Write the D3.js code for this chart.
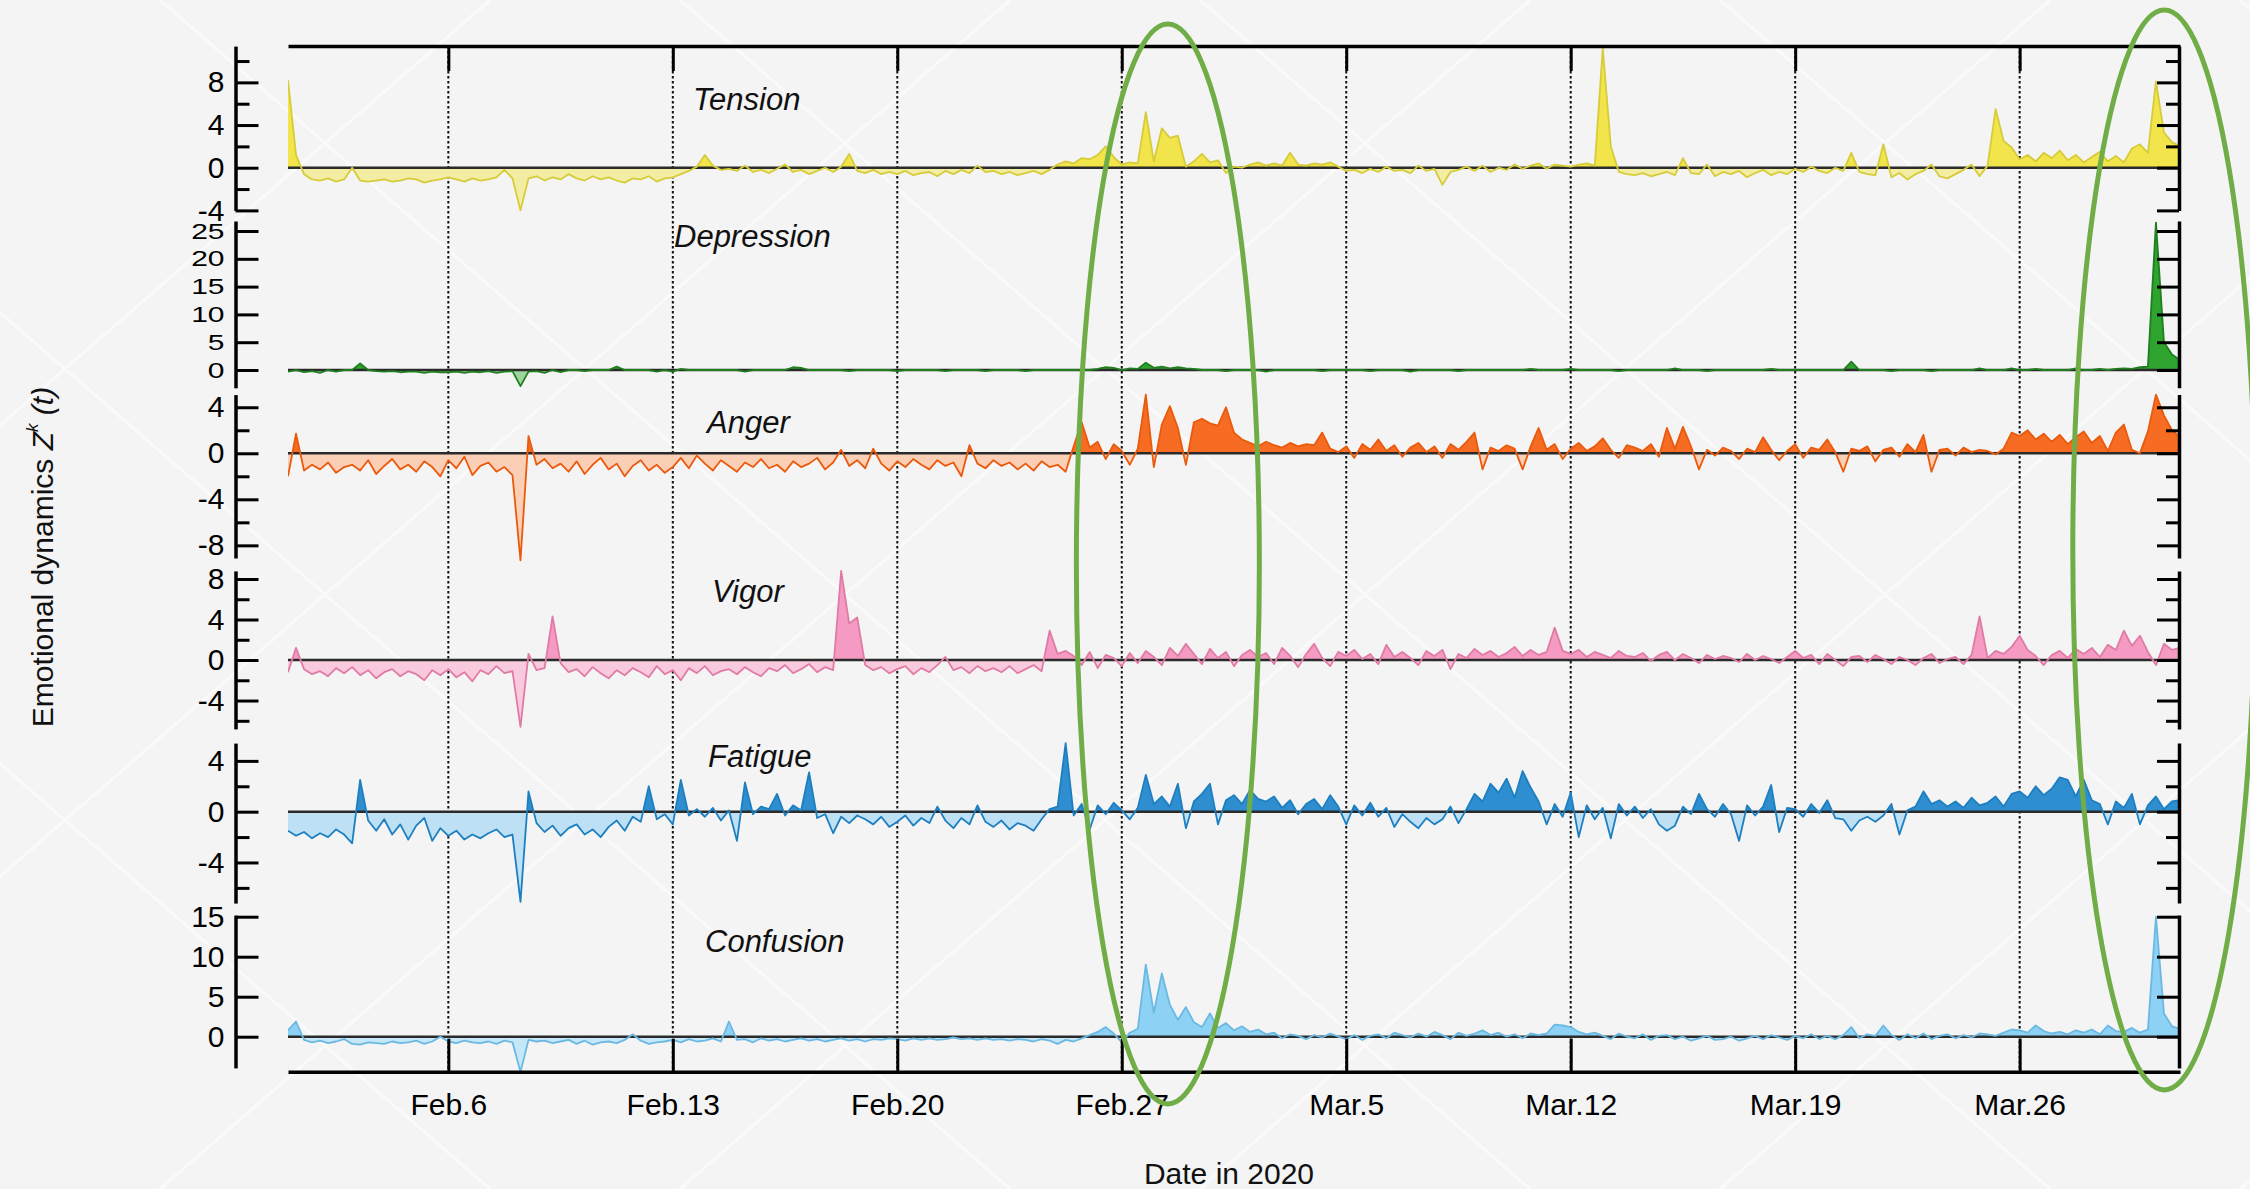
<!DOCTYPE html>
<html>
<head>
<meta charset="utf-8">
<script src="https://cdn.jsdelivr.net/npm/d3@7"></script>
<style>
  html, body { margin: 0; padding: 0; background: #f4f4f4; }
  svg { display: block; }
  text { font-family: "Liberation Sans", Arial, sans-serif; }
</style>
</head>
<body>
<svg id="chart" width="2250" height="1189"></svg>
<script>
// emotion series, one value every 6 hours, Feb 1 00:00 -> Mar 31 00:00 (2020)
const startDate = new Date(2020, 1, 1)
const endDate = new Date(2020, 2, 31)
const stepHours = 6

const tension = [
  8.2, 1.2, -0.6, -1.1, -1.2, -1.0, -1.3, -1.1,
  0.0, -1.2, -1.3, -1.2, -1.1, -1.3, -1.2, -1.0,
  -1.1, -1.4, -1.2, -1.1, -0.9, -1.1, -1.3, -1.0,
  -1.2, -1.1, -0.9, -0.2, -1.0, -4.0, -1.0, -0.8,
  -1.2, -0.9, -1.1, -0.6, -1.0, -1.2, -0.8, -1.1,
  -0.9, -1.2, -1.4, -1.0, -1.1, -0.8, -1.3, -1.0,
  -0.9, -0.6, -0.3, 0.1, 1.2, 0.2, -0.2, -0.1,
  -0.3, 0.2, -0.4, -0.2, -0.5, -0.1, 0.3, -0.4,
  -0.2, -0.6, -0.3, 0.0, -0.4, 0.1, 1.3, -0.3,
  -0.5, -0.2, -0.6, -0.4, -0.6, -0.3, -0.7, -0.5,
  -0.4, -0.8, -0.3, -0.6, -0.2, -0.5, 0.2, -0.4,
  -0.3, -0.6, -0.4, -0.7, -0.5, -0.3, -0.6, -0.2,
  0.3, 0.6, 0.4, 0.9, 0.8, 1.2, 2.0, 1.0,
  0.3, 0.5, 0.4, 5.2, 0.6, 3.7, 2.8, 3.0,
  0.1, 0.6, 1.3, 0.5, 0.7, -0.5, 0.1, 0.0,
  0.3, 0.5, 0.2, 0.4, 0.2, 1.4, 0.3, 0.2,
  0.4, 0.3, 0.5, 0.1, -0.3, -0.2, -0.5, -0.1,
  -0.4, 0.1, -0.3, -0.2, -0.5, 0.2, -0.3, -0.1,
  -1.6, -0.4, -0.2, 0.1, -0.3, 0.2, -0.4, 0.0,
  -0.2, 0.3, -0.1, 0.2, 0.4, -0.1, 0.3, 0.2,
  0.1, 0.3, 0.4, 0.2, 11.2, 2.0, -0.4, -0.6,
  -0.7, -0.5, -0.8, -0.6, -0.4, -0.7, 0.9, -0.5,
  -0.6, 0.3, -0.8, -0.4, -0.6, -0.3, -0.9, -0.5,
  -0.2, -0.7, -0.4, -0.6, -0.1, -0.4, 0.1, -0.3,
  -0.5, 0.0, -0.3, 1.4, -0.4, -0.6, -0.7, 2.2,
  -0.9, -0.5, -1.1, -0.6, -0.3, 0.3, -0.8, -1.0,
  -0.6, -0.2, 0.3, -0.8, 0.2, 5.5, 2.5, 1.9,
  0.8, 1.2, 0.6, 1.4, 0.9, 1.6, 0.7, 1.2,
  0.5, 1.0, 1.5, 0.6, 1.1, 0.5, 1.8, 2.2,
  1.4, 8.1, 3.3, 2.4, 2.0
]

const depression = [
  -0.3, 0.0, -0.4, -0.2, -0.5, 0.0, -0.3, 0.0,
  0.0, 1.2, 0.0, -0.2, -0.3, -0.2, -0.4, -0.3,
  -0.3, -0.5, -0.3, -0.4, -0.4, -0.3, -0.5, -0.3,
  -0.4, -0.2, -0.5, -0.3, -0.2, -2.9, -0.3, -0.2,
  -0.5, 0.0, -0.4, 0.0, 0.0, -0.2, 0.0, 0.0,
  0.0, 0.6, 0.0, 0.0, 0.0, 0.0, -0.3, 0.0,
  -0.3, 0.2, 0.0, 0.0, 0.0, 0.0, 0.0, 0.0,
  0.0, -0.3, 0.0, 0.0, 0.0, 0.0, 0.0, 0.5,
  0.4, 0.0, 0.0, 0.0, 0.0, 0.0, -0.2, 0.0,
  0.0, 0.0, 0.0, 0.0, -0.2, 0.0, 0.0, 0.0,
  0.0, 0.0, -0.2, 0.0, 0.0, 0.0, 0.0, -0.2,
  0.0, 0.0, 0.0, 0.0, -0.2, 0.0, 0.0, 0.0,
  0.0, 0.0, 0.0, 0.0, 0.0, 0.2, 0.5, 0.4,
  0.0, 0.3, 0.2, 1.3, 0.4, 0.6, 0.3, 0.5,
  0.3, 0.2, 0.0, 0.0, 0.0, -0.2, 0.0, 0.0,
  0.0, 0.0, -0.3, 0.0, 0.0, 0.0, 0.0, 0.0,
  0.0, -0.2, 0.0, 0.0, 0.0, 0.0, 0.0, -0.2,
  0.0, 0.0, 0.0, 0.0, -0.3, 0.0, 0.0, 0.0,
  0.0, 0.0, -0.2, 0.0, 0.0, 0.0, 0.0, 0.0,
  0.0, 0.0, 0.0, 0.2, 0.0, 0.0, 0.0, 0.0,
  0.2, 0.0, 0.0, 0.0, 0.0, 0.0, -0.2, 0.0,
  0.0, 0.0, 0.0, 0.0, 0.0, 0.3, 0.0, 0.0,
  0.0, -0.2, 0.0, 0.0, 0.0, 0.0, 0.0, 0.0,
  0.0, 0.2, 0.0, 0.0, 0.0, 0.0, 0.0, 0.0,
  0.0, 0.0, 0.0, 1.5, 0.0, 0.0, 0.0, 0.0,
  -0.2, 0.0, 0.0, 0.0, 0.0, -0.2, 0.0, 0.0,
  0.0, 0.0, 0.0, 0.3, 0.0, 0.0, 0.0, 0.3,
  0.0, 0.0, 0.2, 0.0, 0.0, 0.0, 0.0, 0.3,
  0.0, 0.0, 0.2, 0.0, 0.2, 0.3, 0.2, 0.5,
  0.6, 26.5, 5.0, 2.8, 1.8
]

const anger = [
  -2.0, 1.7, -1.5, -1.0, -1.4, -0.8, -1.7, -1.2,
  -1.0, -1.5, -0.6, -1.8, -1.1, -0.5, -1.4, -1.0,
  -1.6, -0.7, -1.2, -2.0, -0.6, -1.3, -0.3, -1.9,
  -1.1, -0.8, -1.6, -1.2, -1.9, -9.3, 1.5, -1.0,
  -0.5, -1.3, -0.9, -1.6, -0.7, -1.8, -1.0, -0.4,
  -1.4, -0.9, -2.0, -1.1, -0.6, -1.5, -1.0, -1.7,
  -1.2, -0.4, -1.3, -0.2, -0.9, -1.5, -0.6, -1.1,
  -1.6, -0.8, -1.2, -0.5, -1.3, -1.0, -1.6, -0.7,
  -1.2, -0.9, -0.4, -1.4, -0.8, 0.3, -1.1, -0.6,
  -1.3, 0.4, -0.9, -1.5, -0.7, -1.2, -0.5, -1.0,
  -1.4, -0.6, -1.1, -0.8, -2.0, 0.7, -0.9, -1.3,
  -0.6, -1.1, -0.8, -1.4, -0.9, -1.5, -0.7, -1.2,
  -1.0, -1.6, 0.6, 2.7, 0.5, 1.0, -0.5, 0.8,
  0.2, -1.0, 0.4, 5.1, -1.2, 2.5, 4.1, 2.2,
  -1.0, 2.7, 3.0, 2.6, 2.4, 4.0, 1.8, 1.2,
  0.9, 0.6, 1.0, 0.7, 0.5, 0.9, 0.6, 0.8,
  0.7, 1.8, 0.4, 0.1, 0.6, -0.4, 0.8, 0.3,
  1.2, 0.2, 0.7, -0.3, 0.5, 0.9, 0.1, 0.6,
  -0.4, 0.8, 0.3, 1.0, 1.8, -1.4, 0.5, 0.2,
  0.7, 0.4, -1.4, 0.6, 2.2, 0.3, 0.8, -0.5,
  0.4, 0.9, 0.2, 0.6, 1.3, 0.3, -0.4, 0.7,
  0.5, 0.2, 0.8, -0.3, 2.2, 0.4, 2.3, 0.6,
  -1.4, 0.3, -0.2, 0.5, 0.2, -0.5, 0.4, 0.1,
  1.4, 0.3, -0.6, 0.2, 0.8, -0.4, 0.5, 0.3,
  1.2, 0.1, -1.6, 0.4, 0.2, 0.6, -0.7, 0.3,
  0.5, -0.3, 0.8, 0.1, 1.6, -1.6, 0.3, 0.4,
  -0.2, 0.5, 0.1, 0.3, 0.2, -0.1, 0.4, 1.8,
  1.5, 2.0, 1.2, 1.7, 1.0, 1.6, 0.8, 1.4,
  1.9, 0.9, 1.5, 0.2, 1.8, 2.5, 0.3, 0.0,
  1.9, 5.1, 3.3, 2.0, 1.4
]

const vigor = [
  -1.2, 1.2, -0.9, -1.4, -1.1, -1.6, -0.8, -1.3,
  -0.7, -1.5, -1.0, -1.8, -1.2, -0.9, -1.6, -1.1,
  -1.4, -2.0, -1.0, -1.5, -0.9, -1.7, -1.2, -2.1,
  -1.0, -1.4, -0.6, -1.3, -1.1, -6.6, 0.6, -1.0,
  -0.8, 4.3, -0.3, -1.2, -0.9, -1.6, -0.7, -1.3,
  -1.8, -1.0, -1.5, -0.8, -1.2, -1.7, -0.6, -1.4,
  -1.0, -2.0, -0.8, -1.3, -0.6, -1.5, -1.1, -0.9,
  -1.4, -0.7, -1.2, -1.6, -0.8, -1.1, -0.5, -1.3,
  -0.9, -0.4, -1.2, -0.7, -1.0, 8.8, 3.6, 4.2,
  -0.5, -1.0, -0.7, -1.3, -0.9, -0.6, -1.4, -0.8,
  -1.2, -0.5, 0.3, -1.0, -0.7, -1.3, -0.6, -1.1,
  -0.8, -1.2, -0.6, -1.3, -0.9, -0.5, -1.1, 2.9,
  0.6, 0.9, 0.4, -0.5, 0.8, -0.8, 0.5, 0.2,
  -0.6, 0.7, -0.3, 0.9, 0.3, -0.5, 1.2, 0.4,
  1.6, 0.6, -0.4, 1.1, 0.2, 0.8, -0.6, 0.5,
  1.0, 0.3, 0.7, -0.4, 1.2, 0.4, -0.7, 0.6,
  1.6, 0.2, -0.6, 0.8, 0.4, 1.0, 0.1, 0.6,
  -0.4, 1.5, 0.3, 0.8, 0.2, -0.5, 0.9, 0.4,
  1.0, -0.9, 0.6, 0.2, 1.1, 0.5, 0.9, 0.3,
  0.7, 1.3, 0.4, 1.0, 0.5, 0.8, 3.2, 0.9,
  0.6, 1.0, 0.3, 0.8, 0.5, 0.2, 0.9, 0.4,
  0.3, 0.7, -0.1, 0.5, 0.8, 0.0, 0.6, 0.2,
  -0.3, 0.5, 0.1, 0.4, 0.2, -0.2, 0.6, 0.0,
  0.4, 0.1, -0.3, 0.3, 0.9, 0.2, 0.5, -0.4,
  0.6, 0.0, -0.6, 0.3, 0.4, -0.2, 0.5, 0.1,
  -0.4, 0.3, 0.0, -0.5, 0.2, 0.6, -0.3, 0.1,
  0.3, -0.4, 0.5, 4.3, 0.2, 0.9, 0.6, 1.3,
  2.4, 1.0, 0.4, -0.5, 0.5, 0.9, 0.2, 1.1,
  0.6, 1.2, 0.3, 1.5, 1.0, 2.9, 1.4, 2.4,
  0.8, -0.5, 1.6, 1.0, 1.2
]

const fatigue = [
  -1.5, -1.9, -1.6, -2.1, -1.7, -2.0, -1.4, -1.8,
  -2.5, 2.5, -0.7, -1.5, -0.6, -1.8, -1.0, -2.2,
  -1.1, -0.5, -2.3, -1.3, -1.9, -1.5, -2.2, -1.8,
  -2.1, -1.7, -1.4, -2.0, -1.8, -7.1, 1.6, -0.9,
  -1.6, -1.1, -1.9, -1.3, -1.0, -1.8, -1.4, -2.0,
  -1.2, -0.7, -1.5, -0.4, -0.8, 2.0, -0.6, -0.2,
  -1.0, 2.5, -0.3, 0.2, -0.4, 0.3, -0.7, 0.1,
  -2.3, 2.3, -0.2, 0.4, 0.2, 1.4, -0.3, 0.5,
  0.1, 3.1, -0.5, -0.2, -1.7, -0.4, -0.9, -0.3,
  -0.6, -1.0, -0.4, -1.2, -0.8, -0.3, -1.1, -0.5,
  -0.9, 0.4, -0.7, -1.3, -0.5, -1.0, 0.5, -0.8,
  -1.2, -0.7, -1.4, -0.9, -1.1, -1.5, -0.6, 0.2,
  0.4, 5.4, -0.3, 0.6, -1.4, 0.5, -0.2, 0.7,
  0.1, -0.6, 0.3, 2.9, 0.6, 1.2, 0.4, 2.2,
  -1.3, 0.8, 1.4, 2.2, -1.0, 0.9, 1.3, 0.6,
  1.7, 1.0, 0.8, 1.2, 0.3, 0.9, -0.2, 0.6,
  1.0, 0.2, 1.3, 0.4, -1.0, 0.5, -0.3, 0.7,
  -0.4, 0.3, -1.2, -0.2, -0.8, -1.3, -0.5, -1.0,
  -0.6, 0.4, -0.9, 0.2, 1.4, 0.8, 2.2, 1.5,
  2.6, 1.1, 3.2, 1.9, 0.8, -1.0, 0.6, -0.4,
  1.5, -2.0, 0.5, -0.6, 0.3, -2.1, 0.6, -0.3,
  0.4, -0.5, 0.2, -1.0, -1.5, -1.1, 0.4, -0.2,
  1.4, 0.2, -0.4, 0.6, -0.2, -2.3, 0.5, -0.3,
  0.4, 2.1, -1.6, 0.3, 0.2, -0.4, 0.6, -0.1,
  0.9, -0.5, -0.6, -1.5, -0.7, -0.4, -0.8, -0.3,
  0.6, -1.8, 0.1, 0.4, 1.6, 0.6, 0.9, 0.4,
  0.8, 0.3, 1.1, 0.5, 0.7, 1.2, 0.4, 1.4,
  1.6, 1.1, 2.0, 1.3, 1.8, 2.7, 2.5, 1.2,
  2.5, 0.9, 0.6, -1.0, 0.8, 0.3, 1.4, -1.0,
  0.5, 1.2, 0.2, 0.8, 0.9
]

const confusion = [
  0.8, 1.9, -0.4, -0.7, -0.5, -0.8, -0.6, -0.3,
  -0.9, -1.0, -0.7, -0.8, -0.9, -0.6, -0.8, -0.7,
  -0.5, -0.9, -0.6, 0.0, -0.6, -0.8, -0.5, -0.7,
  -0.8, -0.6, -0.9, -0.5, -0.7, -4.4, -0.4, -0.6,
  -0.5, -0.8, -0.6, -0.4, -0.9, -0.5, -1.0, -0.7,
  -0.6, -0.8, -0.4, 0.3, -0.5, -0.9, -0.7, -0.6,
  -0.4, -0.7, -0.3, -0.6, -0.5, -0.2, -0.6, 1.9,
  -0.4, -0.3, -0.7, -0.2, -0.5, -0.3, -0.6, -0.4,
  -0.2, -0.5, -0.3, -0.6, -0.4, -0.2, -0.5, -0.3,
  -0.6, -0.3, -0.4, -0.2, -0.3, -0.5, -0.2, -0.4,
  -0.2, -0.4, -0.3, -0.1, -0.3, -0.2, -0.4, -0.2,
  -0.4, -0.3, -0.5, -0.3, -0.4, -0.6, -0.3, -0.5,
  -0.9, -0.4, -0.6, -0.2, 0.2, 0.6, 1.2, 0.4,
  -0.7, 0.5, 1.0, 9.0, 3.0, 7.9, 4.0, 2.1,
  3.7, 1.8, 1.2, 2.9, 1.1, 1.7, 0.8, 1.3,
  0.6, 0.9, 0.3, 0.5, -0.2, 0.3, 0.1, -0.3,
  0.2, -0.1, 0.4, 0.0, -0.3, 0.2, -0.4, 0.1,
  0.3, -0.2, 0.5, 0.2, -0.1, 0.4, 0.0, 0.6,
  0.2, -0.3, 0.5, 0.1, 0.4, 0.8, 0.2, 0.5,
  0.0, 0.3, -0.2, 0.4, 0.2, 0.4, 1.5, 1.4,
  1.2, 0.6, 0.3, 0.5, 0.1, -0.3, 0.4, 0.0,
  -0.2, 0.3, -0.4, 0.1, 0.2, -0.3, 0.0, -0.5,
  -0.2, 0.1, -0.4, -0.3, 0.0, -0.5, -0.2, 0.1,
  -0.3, 0.2, -0.1, -0.4, 0.1, -0.2, 0.3, -0.3,
  0.1, -0.3, 0.2, 1.2, -0.2, 0.3, 0.1, 1.4,
  0.2, -0.4, 0.3, -0.2, 0.4, -0.3, 0.1, 0.3,
  -0.2, 0.2, -0.1, 0.4, 0.3, 0.1, 0.5, 0.9,
  0.8, 0.5, 1.4, 0.7, 0.4, 0.6, 0.3, 0.8,
  0.5, 0.9, 0.3, 1.4, 0.7, 0.6, 1.1, 0.5,
  0.9, 15.0, 2.9, 1.3, 1.0
]

const weekTicks = [
  new Date(2020, 1, 6), new Date(2020, 1, 13), new Date(2020, 1, 20), new Date(2020, 1, 27),
  new Date(2020, 2, 5), new Date(2020, 2, 12), new Date(2020, 2, 19), new Date(2020, 2, 26)
]
const weekLabels = ['Feb.6', 'Feb.13', 'Feb.20', 'Feb.27', 'Mar.5', 'Mar.12', 'Mar.19', 'Mar.26']

// highlighted periods (green ellipses), centre dates
const highlights = [new Date(2020, 1, 28, 10, 30), new Date(2020, 2, 30, 12, 15)]

const panels = [
  { name: 'Tension', values: tension, domain: [-4, 11.4], px: [210.4, 46.1],
    major: [-4, 0, 4, 8], minor: [-2, 2, 6, 10], lx: 693, ly: 110, squeeze: 1,
    stroke: '#d6cc3a', pos: '#f1e54b', neg: '#f3eca3' },
  { name: 'Depression', values: depression, domain: [-3.2, 26.8], px: [387.8, 221],
    major: [0, 5, 10, 15, 20, 25], minor: [], lx: 674, ly: 247, squeeze: 0.74,
    stroke: '#1f7f1f', pos: '#2ea42e', neg: '#9fd49f' },
  { name: 'Anger', values: anger, domain: [-9.1, 5.1], px: [558, 394.6],
    major: [-8, -4, 0, 4], minor: [-6, -2, 2], lx: 707, ly: 433, squeeze: 1,
    stroke: '#e95a0c', pos: '#f56c22', neg: '#fbcfb6' },
  { name: 'Vigor', values: vigor, domain: [-6.8, 8.8], px: [728.9, 570.9],
    major: [-4, 0, 4, 8], minor: [-6, -2, 2, 6], lx: 712, ly: 602, squeeze: 1,
    stroke: '#e07ba6', pos: '#f59bc3', neg: '#f9cadd' },
  { name: 'Fatigue', values: fatigue, domain: [-7.2, 5.4], px: [903.1, 743.1],
    major: [-4, 0, 4], minor: [-6, -2, 2], lx: 708, ly: 767, squeeze: 1,
    stroke: '#1d7fc0', pos: '#2e8ecf', neg: '#bde0f4' },
  { name: 'Confusion', values: confusion, domain: [-3.9, 15.2], px: [1067.9, 915.1],
    major: [0, 5, 10, 15], minor: [], lx: 705, ly: 952, squeeze: 1,
    stroke: '#6bb9e2', pos: '#8dd2f5', neg: '#c6e7f7' }
]

const plotLeft = 288, plotRight = 2180, frameTop = 46, frameBottom = 1071.7
const leftAxisX = 235.5, rightAxisX = 2179

const svg = d3.select('#chart')

// background
svg.append('rect').attr('width', 2250).attr('height', 1189).attr('fill', '#f4f4f4')
const bg = svg.append('g').attr('stroke', '#ffffff').attr('stroke-width', 3).attr('opacity', 0.6)
d3.range(-1400, 2600, 520).forEach(function(o) {
  bg.append('line').attr('x1', o).attr('y1', 1189).attr('x2', o + 1370).attr('y2', 0)
  bg.append('line').attr('x1', o).attr('y1', 0).attr('x2', o + 1370).attr('y2', 1189)
})

const x = d3.scaleTime().domain([startDate, endDate]).range([plotLeft, plotRight])
const timeOf = function(i) { return new Date(startDate.getTime() + i * stepHours * 3600 * 1000) }

// dotted weekly gridlines
svg.append('g').selectAll('line')
  .data(weekTicks)
  .enter().append('line')
  .attr('x1', function(d) { return x(d) })
  .attr('x2', function(d) { return x(d) })
  .attr('y1', frameTop)
  .attr('y2', frameBottom)
  .attr('stroke', '#111')
  .attr('stroke-width', 2)
  .attr('stroke-dasharray', '2.5,2.5')

svg.append('clipPath').attr('id', 'plotclip')
  .append('rect').attr('x', plotLeft).attr('y', 0).attr('width', plotRight - plotLeft).attr('height', 1189)

panels.forEach(function(p, k) {
  const y = d3.scaleLinear().domain(p.domain).range(p.px)
  const y0 = y(0)
  const data = p.values.map(function(v, i) { return { t: timeOf(i), v: v } })

  const g = svg.append('g').attr('clip-path', 'url(#plotclip)')

  const defs = svg.append('defs')
  defs.append('clipPath').attr('id', 'above' + k)
    .append('rect').attr('x', plotLeft).attr('y', 0).attr('width', plotRight - plotLeft).attr('height', y0)
  defs.append('clipPath').attr('id', 'below' + k)
    .append('rect').attr('x', plotLeft).attr('y', y0).attr('width', plotRight - plotLeft).attr('height', 1189 - y0)

  const area = d3.area()
    .x(function(d) { return x(d.t) })
    .y0(y0)
    .y1(function(d) { return y(d.v) })
  const line = d3.line()
    .x(function(d) { return x(d.t) })
    .y(function(d) { return y(d.v) })

  g.append('path').datum(data).attr('d', area).attr('fill', p.neg).attr('clip-path', 'url(#below' + k + ')')
  g.append('path').datum(data).attr('d', area).attr('fill', p.pos).attr('clip-path', 'url(#above' + k + ')')

  // zero line
  g.append('line')
    .attr('x1', plotLeft).attr('x2', plotRight)
    .attr('y1', y0).attr('y2', y0)
    .attr('stroke', '#2a2a2a').attr('stroke-width', 2.5)

  g.append('path').datum(data).attr('d', line)
    .attr('fill', 'none').attr('stroke', p.stroke).attr('stroke-width', 1.8)
    .attr('stroke-linejoin', 'round')

  // left axis with labels
  const left = svg.append('g').attr('transform', 'translate(' + leftAxisX + ',0)')
    .call(d3.axisLeft(y).tickValues(p.major).tickSize(-23).tickSizeOuter(0).tickPadding(11)
      .tickFormat(function(d) { return String(d) }))
  left.append('g')
    .call(d3.axisLeft(y).tickValues(p.minor).tickSize(-14).tickSizeOuter(0).tickFormat(''))
    .select('.domain').remove()

  // right axis, ticks only
  const right = svg.append('g').attr('transform', 'translate(' + rightAxisX + ',0)')
    .call(d3.axisRight(y).tickValues(p.major).tickSize(-22).tickSizeOuter(0).tickFormat(''))
  right.append('g')
    .call(d3.axisRight(y).tickValues(p.minor).tickSize(-13).tickSizeOuter(0).tickFormat(''))
    .select('.domain').remove()

  ;[left, right].forEach(function(a) {
    a.selectAll('.domain').attr('stroke', '#000').attr('stroke-width', 3.5)
    a.selectAll('.tick line').attr('stroke', '#000').attr('stroke-width', 3)
    a.selectAll('text').attr('font-size', 30).attr('fill', '#000')
      .attr('font-family', '"Liberation Sans", Arial, sans-serif')
  })
  // crowded labels (Depression) are drawn vertically squeezed, as in the figure
  if (p.squeeze !== 1) {
    left.selectAll('.tick text').attr('transform', 'scale(1,' + p.squeeze + ')')
  }

  svg.append('text')
    .attr('x', p.lx).attr('y', p.ly)
    .attr('font-size', 31).attr('font-style', 'italic').attr('fill', '#111')
    .text(p.name)
})

// frame: top and bottom date axes
const xTop = svg.append('g').attr('transform', 'translate(0,' + frameTop + ')')
  .call(d3.axisTop(x).tickValues(weekTicks).tickSize(-25).tickSizeOuter(0).tickFormat(''))
const xBottom = svg.append('g').attr('transform', 'translate(0,' + frameBottom + ')')
  .call(d3.axisBottom(x).tickValues(weekTicks).tickSize(-33).tickSizeOuter(0).tickPadding(22)
    .tickFormat(function(d, i) { return weekLabels[i] }))
;[xTop, xBottom].forEach(function(a) {
  a.selectAll('.domain').attr('stroke', '#000').attr('stroke-width', 3.5)
  a.selectAll('.tick line').attr('stroke', '#000').attr('stroke-width', 3)
  a.selectAll('text').attr('font-size', 30).attr('fill', '#000')
    .attr('font-family', '"Liberation Sans", Arial, sans-serif')
})

// axis titles
svg.append('text')
  .attr('x', 1229).attr('y', 1184)
  .attr('text-anchor', 'middle').attr('font-size', 30).attr('fill', '#111')
  .text('Date in 2020')

const yTitle = svg.append('text')
  .attr('transform', 'translate(53,557) rotate(-90)')
  .attr('text-anchor', 'middle').attr('font-size', 30).attr('fill', '#111')
yTitle.append('tspan').text('Emotional dynamics ')
yTitle.append('tspan').attr('font-style', 'italic').text('Z')
yTitle.append('tspan').attr('font-style', 'italic').attr('font-size', 17).attr('dy', -15).text('k')
yTitle.append('tspan').attr('font-style', 'italic').attr('dy', 15).text(' (t)')

// green highlight ellipses
svg.append('g').selectAll('ellipse')
  .data(highlights)
  .enter().append('ellipse')
  .attr('cx', function(d) { return x(d) })
  .attr('cy', function(d, i) { return i === 0 ? 564 : 550 })
  .attr('rx', 91.5)
  .attr('ry', 540)
  .attr('fill', 'none')
  .attr('stroke', '#70ad47')
  .attr('stroke-width', 5)
</script>
</body>
</html>
